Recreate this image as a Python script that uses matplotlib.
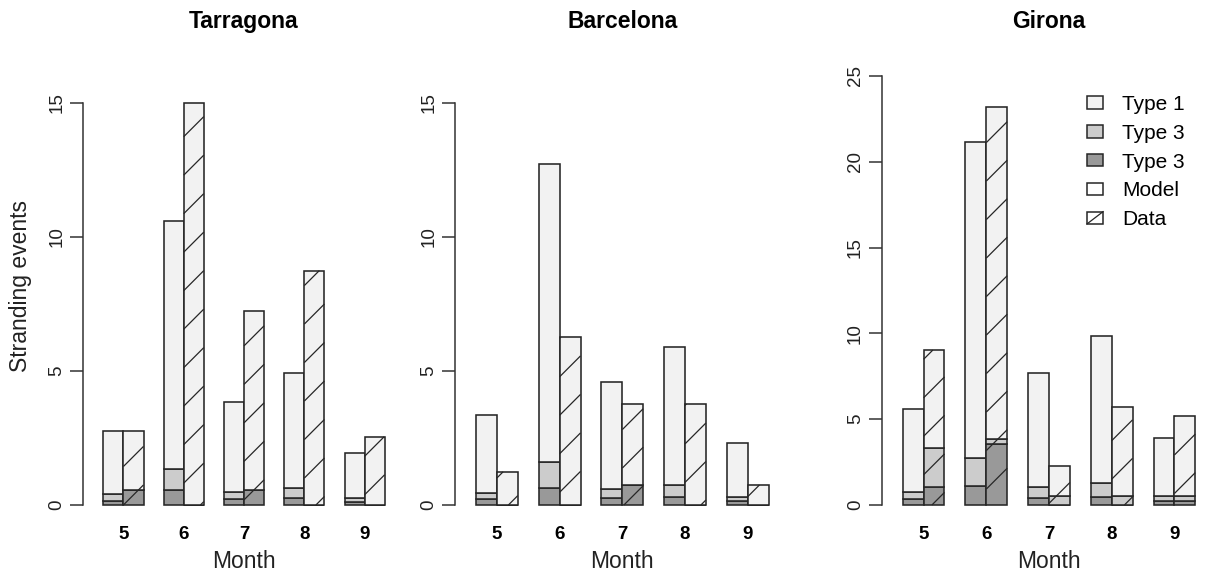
import numpy as np
import matplotlib
matplotlib.use("Agg")
import matplotlib.pyplot as plt
from matplotlib.patches import Patch, Rectangle
from matplotlib.lines import Line2D
from matplotlib.legend_handler import HandlerBase
from matplotlib.transforms import blended_transform_factory

plt.rcParams["font.family"] = ["Liberation Sans", "DejaVu Sans"]

# Data: stacked segments (dark = Type 3 bottom, mid = Type 3, light = Type 1)
months = [5, 6, 7, 8, 9]
regions = ["Tarragona", "Barcelona", "Girona"]

tar_model_dark = [0.15, 0.56, 0.22, 0.25, 0.10]
tar_model_mid = [0.25, 0.78, 0.28, 0.40, 0.17]
tar_model_light = [2.35, 9.26, 3.35, 4.27, 1.68]
tar_data_dark = [0.56, 0.00, 0.56, 0.00, 0.00]
tar_data_mid = [0.00, 0.00, 0.00, 0.00, 0.00]
tar_data_light = [2.19, 15.00, 6.69, 8.75, 2.55]

bcn_model_dark = [0.22, 0.65, 0.25, 0.31, 0.16]
bcn_model_mid = [0.22, 0.97, 0.34, 0.44, 0.15]
bcn_model_light = [2.92, 11.10, 4.00, 5.15, 2.02]
bcn_data_dark = [0.00, 0.00, 0.75, 0.00, 0.00]
bcn_data_mid = [0.00, 0.00, 0.00, 0.00, 0.00]
bcn_data_light = [1.24, 6.27, 3.02, 3.77, 0.75]

gir_model_dark = [0.33, 1.10, 0.43, 0.49, 0.23]
gir_model_mid = [0.45, 1.62, 0.60, 0.77, 0.29]
gir_model_light = [4.80, 18.43, 6.64, 8.59, 3.37]
gir_data_dark = [1.03, 3.54, 0.00, 0.00, 0.23]
gir_data_mid = [2.27, 0.29, 0.52, 0.52, 0.29]
gir_data_light = [5.73, 19.37, 1.75, 5.21, 4.68]

y_max = [15, 15, 25]
legend_labels = ["Type 1", "Type 3", "Type 3", "Model", "Data"]

C_LIGHT = "#F2F2F2"
C_MID = "#CCCCCC"
C_DARK = "#999999"
EDGE = "#262626"

W, H = 1207, 572
fig = plt.figure(figsize=(W / 100, H / 100), dpi=100)

# layout in pixels (image coordinates, y downwards)
left_px = [83.2, 455.1, 881.8]
unit_px = [20.1, 20.9, 20.9]
top_tick_px = [103, 103, 76]
ZERO_PX, AX_TOP, AX_BOT = 505, 60, 520
XMAX = 15.3
S = 38.5  # vertical spacing of hatch lines in pixels
phase = None

stacks = [
    ((tar_model_dark, tar_model_mid, tar_model_light), (tar_data_dark, tar_data_mid, tar_data_light)),
    ((bcn_model_dark, bcn_model_mid, bcn_model_light), (bcn_data_dark, bcn_data_mid, bcn_data_light)),
    ((gir_model_dark, gir_model_mid, gir_model_light), (gir_data_dark, gir_data_mid, gir_data_light)),
]


def stacked(ax, x, segs):
    dark, mid, light = (np.array(s) for s in segs)
    kw = dict(width=1, align="edge", edgecolor=EDGE, linewidth=1.15)
    ax.bar(x, dark, color=C_DARK, **kw)
    ax.bar(x, mid, bottom=dark, color=C_MID, **kw)
    ax.bar(x, light, bottom=dark + mid, color=C_LIGHT, **kw)
    return dark + mid + light


def hatch_bar(ax, xl, top):
    global phase
    x0, y0 = ax.transData.transform((xl, 0))
    x1, y1 = ax.transData.transform((xl + 1, top))
    if phase is None:
        phase = (y0 - x0) % S
    inv = ax.transData.inverted()
    kmin = int(np.ceil((y0 - x1 - phase) / S))
    kmax = int(np.floor((y1 - x0 - phase) / S))
    for k in range(kmin, kmax + 1):
        c = phase + k * S
        xa, xb = max(x0, y0 - c), min(x1, y1 - c)
        if xb - xa < 0.5:
            continue
        pts = inv.transform([(xa, xa + c), (xb, xb + c)])
        ax.plot(pts[:, 0], pts[:, 1], color=EDGE, lw=0.9, solid_capstyle="butt")


axes = []
for i, name in enumerate(regions):
    ppu = (ZERO_PX - top_tick_px[i]) / y_max[i]
    width = XMAX * unit_px[i]
    ax = fig.add_axes([left_px[i] / W, 1 - AX_BOT / H, width / W, (AX_BOT - AX_TOP) / H])
    ax.set_xlim(0, XMAX)
    ax.set_ylim(-(AX_BOT - ZERO_PX) / ppu, (ZERO_PX - AX_TOP) / ppu)
    axes.append(ax)

    model_x = np.arange(len(months)) * 3 + 1
    data_x = model_x + 1
    stacked(ax, model_x, stacks[i][0])
    totals = stacked(ax, data_x, stacks[i][1])
    for xl, t in zip(data_x, totals):
        hatch_bar(ax, xl, t)

    for sp in ["top", "right", "bottom"]:
        ax.spines[sp].set_visible(False)
    ax.spines["left"].set_bounds(0, y_max[i])
    ax.spines["left"].set_color("#333333")
    ax.spines["left"].set_linewidth(1.1)

    ax.set_xticks(data_x)
    ax.set_xticklabels(months, fontweight="bold", fontsize=13.5)
    ax.tick_params(axis="x", length=0, pad=4)
    ax.set_yticks(np.arange(0, y_max[i] + 1, 5))
    ax.tick_params(axis="y", length=9.4, width=1.1, pad=3.5, labelsize=13.5,
                   color="#333333", labelcolor="#222222")
    for lab in ax.get_yticklabels():
        lab.set_rotation(90)
        lab.set_va("center")

    tr = blended_transform_factory(ax.transData, fig.transFigure)
    ax.text(8, 1 - 28 / H, name, transform=tr, ha="center", va="baseline",
            fontsize=16.5, fontweight="bold")
    ax.text(8, 1 - 568 / H, "Month", transform=tr, ha="center", va="baseline",
            fontsize=16.5, color="#222222")

fig.text(21 / W, 1 - 286 / H, "Stranding events", rotation=90, ha="center",
         va="center", fontsize=16.5, color="#222222")


class DiagHandler(HandlerBase):
    def create_artists(self, legend, orig_handle, xdescent, ydescent, width, height, fontsize, trans):
        r = Rectangle((-xdescent, -ydescent), width, height, facecolor="white",
                      edgecolor=EDGE, lw=1.1, transform=trans)
        ln = Line2D([-xdescent, -xdescent + width], [-ydescent, -ydescent + height],
                    color=EDGE, lw=0.9, transform=trans)
        return [r, ln]


data_handle = Patch(facecolor="white", edgecolor=EDGE)
handles = [
    Patch(facecolor=C_LIGHT, edgecolor=EDGE, lw=1.1),
    Patch(facecolor=C_MID, edgecolor=EDGE, lw=1.1),
    Patch(facecolor=C_DARK, edgecolor=EDGE, lw=1.1),
    Patch(facecolor="white", edgecolor=EDGE, lw=1.1),
    data_handle,
]
axes[2].legend(handles, legend_labels, loc="upper left", bbox_to_anchor=(1087 / W, 1 - 95 / H),
               bbox_transform=fig.transFigure, frameon=False, fontsize=15,
               handlelength=0.77, handleheight=0.53, handletextpad=0.9,
               labelspacing=0.47, borderpad=0, borderaxespad=0,
               handler_map={data_handle: DiagHandler()})

fig.savefig("out.png", dpi=100)
